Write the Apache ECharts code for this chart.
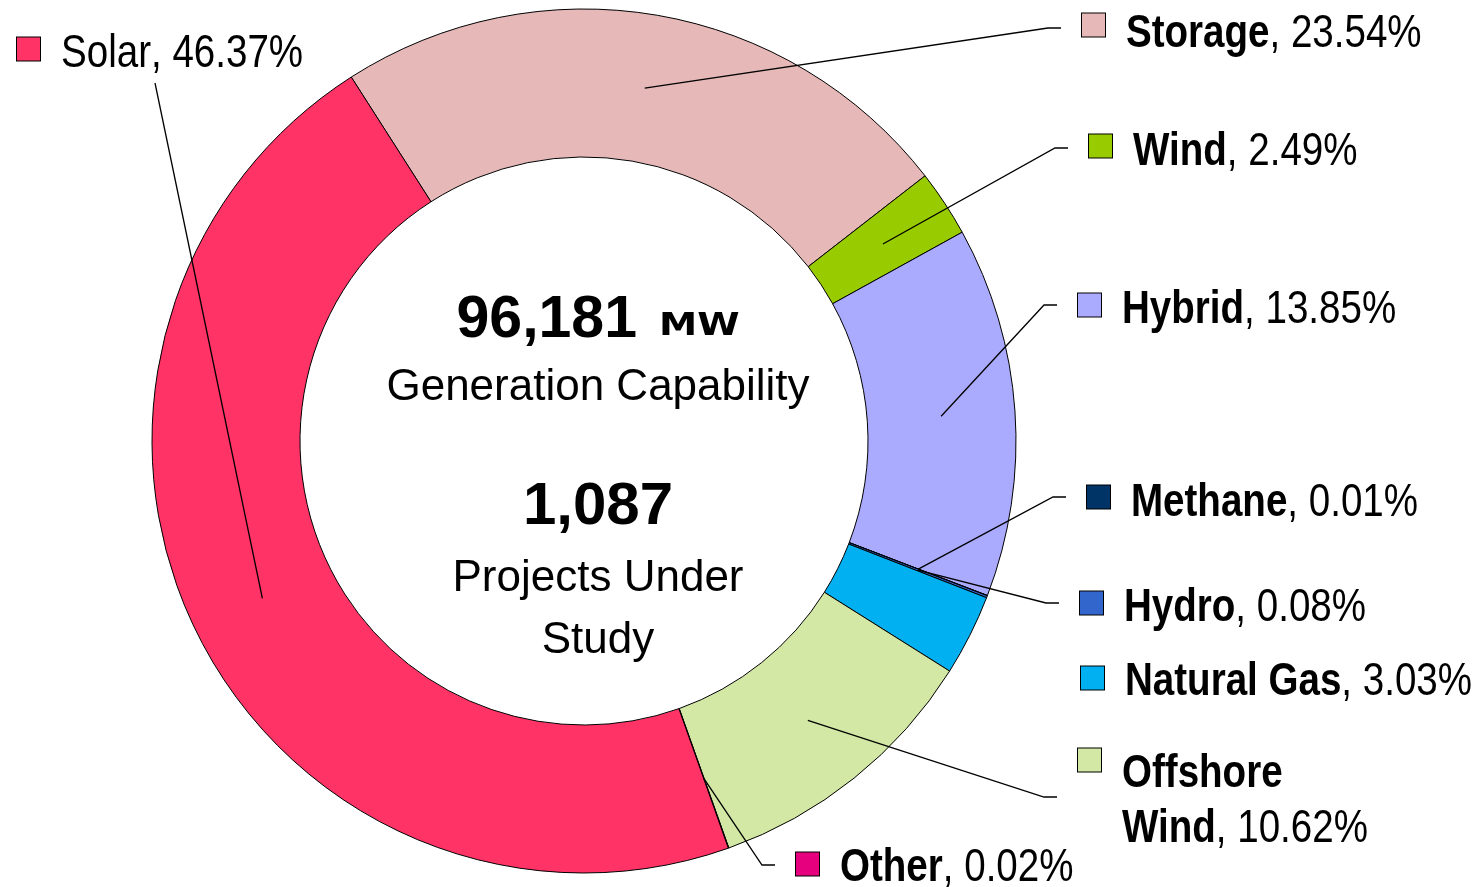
<!DOCTYPE html>
<html>
<head>
<meta charset="utf-8">
<script src="https://cdn.jsdelivr.net/npm/echarts@6/dist/echarts.min.js"></script>
<style>
html,body{margin:0;padding:0;background:#fff;}
#chart{width:1483px;height:887px;}
</style>
</head>
<body>
<div id="chart"></div>
<script>
// ---- data ----
const categories = ['Storage', 'Wind', 'Hybrid', 'Methane', 'Hydro', 'Natural Gas', 'Offshore Wind', 'Other', 'Solar'];
const shares = [23.54, 2.49, 13.85, 0.01, 0.08, 3.03, 10.62, 0.02, 46.37];
const labelNames = ['Storage', 'Wind', 'Hybrid', 'Methane', 'Hydro', 'Natural Gas', 'Offshore\nWind', 'Other', 'Solar'];
const totalMW = '96,181';
const unitMW = 'MW';
const totalProjects = '1,087';

// ---- styles / layout ----
const colors = ['#E6B9B8', '#99CC00', '#AAAAFF', '#003366', '#3366CC', '#00B0F0', '#D2E8A4', '#E6007E', '#FF3366'];
const plainNames = ['Solar'];
const noLine = ['Natural Gas'];
// label layout: square left x, square centre y, leader y, text centre y, optional direct line end
const labelSpots = [
  {x: 1082, y: 25, ly: 28, ty: 30},
  {x: 1089, y: 146, ly: 148, ty: 148},
  {x: 1078, y: 305, ly: 305, ty: 306},
  {x: 1087, y: 497, ly: 497, ty: 499},
  {x: 1080, y: 603, ly: 603, ty: 604},
  {x: 1081, y: 678, ly: 678, ty: 678},
  {x: 1078, y: 760, ly: 797, ty: 797.5},
  {x: 796, y: 864, ly: 865, ty: 864},
  {x: 17, y: 49, ly: 49, ty: 50.5, direct: [155, 83]}
];
const CF = "'Liberation Sans',Arial,sans-serif";
const LABEL_SCALE = 0.82; // condensed look of the original narrow face
const CX = 584, CY = 441, R0 = 284, R1 = 432, RMID = (R0 + R1) / 2;

const sqRich = {};
colors.forEach((c, i) => {
  sqRich['sq' + i] = {width: 23, height: 23, backgroundColor: c, borderColor: '#000', borderWidth: 1};
});

const chart = echarts.init(document.getElementById('chart'), null, {renderer: 'canvas'});

const mainData = categories.map((c, i) => ({name: c, value: shares[i], itemStyle: {color: colors[i]}}));
const guideData = categories.map((c, i) => ({
  name: c, value: shares[i],
  labelLine: {show: noLine.indexOf(c) < 0}
}));

// label texts (name bold + value), condensed horizontally
const textRich = {
  b: {fontFamily: CF, fontWeight: 'bold', fontSize: 47, fill: '#000', lineHeight: 55},
  n: {fontFamily: CF, fontSize: 47, fill: '#000', lineHeight: 55}
};
const labelGraphics = categories.map((c, i) => {
  const s = labelSpots[i];
  const nameStyle = plainNames.indexOf(c) >= 0 ? 'n' : 'b';
  const lines = labelNames[i].split('\n');
  const txt = lines.map((ln, k) => '{' + nameStyle + '|' + ln + '}' +
    (k === lines.length - 1 ? '{n|, ' + shares[i].toFixed(2) + '%}' : '')).join('\n');
  return {
    type: 'text', x: s.x + 44, y: s.ty + 3.6, scaleX: LABEL_SCALE, silent: true,
    style: {text: txt, align: 'left', verticalAlign: 'middle', rich: textRich}
  };
});

chart.setOption({
  animation: false,
  backgroundColor: '#fff',
  series: [
    {
      type: 'pie',
      center: [CX, CY],
      radius: [R0, R1],
      startAngle: 90 + 32.6,
      clockwise: true,
      silent: true,
      label: {show: false},
      labelLine: {show: false},
      itemStyle: {borderColor: '#000', borderWidth: 1},
      data: mainData,
      z: 1
    },
    {
      type: 'pie',
      center: [CX, CY],
      radius: [0, RMID],
      startAngle: 90 + 32.6,
      clockwise: true,
      silent: true,
      itemStyle: {color: 'rgba(0,0,0,0)', borderWidth: 0},
      emphasis: {disabled: true},
      avoidLabelOverlap: false,
      label: {
        show: true,
        position: 'outside',
        formatter: p => '{sq' + p.dataIndex + '|}',
        rich: sqRich
      },
      labelLine: {show: true, length: 10, length2: 10, lineStyle: {color: '#000', width: 1.3}},
      labelLayout: function (p) {
        const s = labelSpots[p.dataIndex];
        const res = {x: s.x, y: s.y, align: 'left', verticalAlign: 'middle'};
        if (p.labelLinePoints && p.labelLinePoints.length) {
          const a = p.labelLinePoints[0];
          res.labelLinePoints = s.direct
            ? [a, s.direct, s.direct]
            : [a, [s.x - 34, s.ly], [s.x - 21, s.ly]];
        }
        return res;
      },
      data: guideData,
      z: 2
    }
  ],
  graphic: labelGraphics.concat([
    {type: 'text', x: 637, y: 321, silent: true, style: {text: totalMW, align: 'right', verticalAlign: 'middle', fontFamily: CF, fontWeight: 'bold', fontSize: 59, fill: '#000'}},
    {type: 'text', x: 659, y: 327, scaleX: 1.2, silent: true, style: {text: unitMW, align: 'left', verticalAlign: 'middle', fontFamily: "'DejaVu Sans',sans-serif", fontWeight: 'bold', fontSize: 32, fill: '#000'}},
    {type: 'text', x: CX + 14, y: 388, silent: true, style: {text: 'Generation Capability', align: 'center', verticalAlign: 'middle', fontFamily: CF, fontSize: 44, fill: '#000'}},
    {type: 'text', x: CX + 14, y: 507, silent: true, style: {text: totalProjects, align: 'center', verticalAlign: 'middle', fontFamily: CF, fontWeight: 'bold', fontSize: 60, fill: '#000'}},
    {type: 'text', x: CX + 14, y: 579, silent: true, style: {text: 'Projects Under', align: 'center', verticalAlign: 'middle', fontFamily: CF, fontSize: 44, fill: '#000'}},
    {type: 'text', x: CX + 14, y: 641, silent: true, style: {text: 'Study', align: 'center', verticalAlign: 'middle', fontFamily: CF, fontSize: 44, fill: '#000'}}
  ])
});
</script>
</body>
</html>
